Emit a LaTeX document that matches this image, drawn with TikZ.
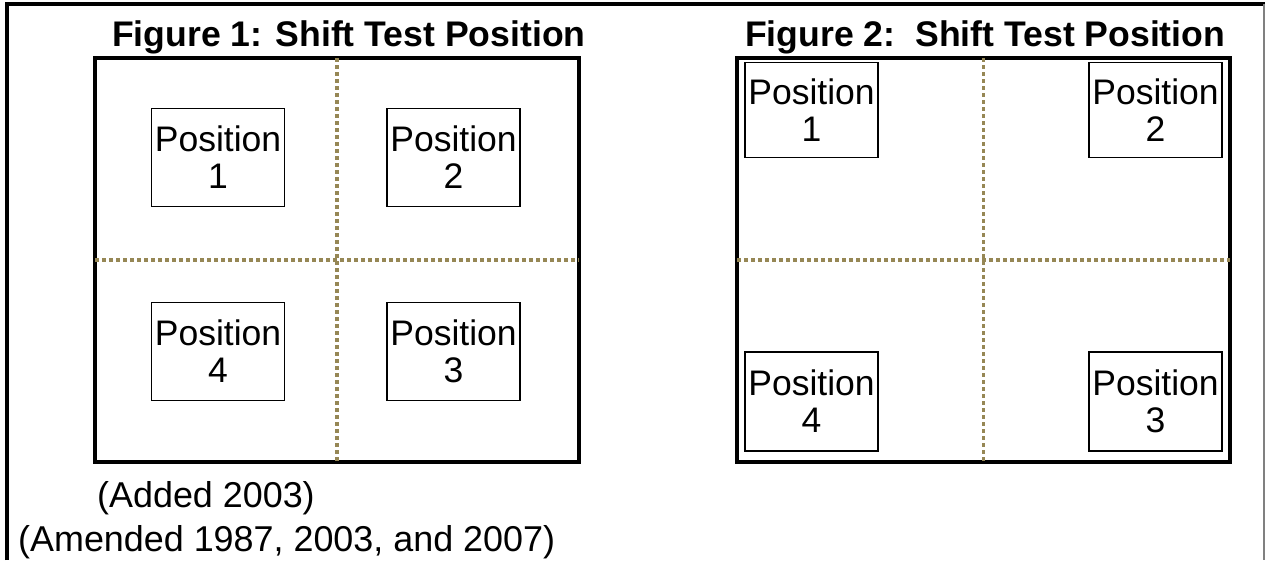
\documentclass[tikz,border=0pt]{standalone}
\usepackage{fontspec}
\setmainfont{Liberation Sans}
\definecolor{gridcol}{RGB}{150,135,85}
\begin{document}
\begin{tikzpicture}[x=1pt,y=-1pt,
  posbox/.style={draw, line width=1.5pt, minimum width=133pt, minimum height=98pt, inner sep=0pt, align=center, font=\fontsize{35.5}{37}\selectfont},
  figbox/.style={draw, line width=4pt, inner sep=0pt, outer sep=0pt},
  gridline/.style={draw=gridcol, line width=3.5pt, dash pattern=on 3.5pt off 3.5pt},
  title/.style={anchor=base west, inner sep=0pt, font=\fontsize{35.6}{40}\selectfont\bfseries},
  note/.style={anchor=base west, inner sep=0pt, font=\fontsize{35.9}{40}\selectfont}]
\useasboundingbox (0,0) rectangle (1265,560);
\fill[white] (0,0) rectangle (1265,560);
% outer frame
\draw[line width=4pt] (7,560) -- (7,4) -- (1265,4);
\draw[gray, line width=1.5pt] (1264,4) -- (1264,560);
% titles
\node[title] (t1) at (112,46) {Figure 1: Shift Test Position};
\node[title] (t2) at (745,46) {Figure 2:\ \ Shift Test Position};
% figure 1
\node[figbox, minimum width=484pt, minimum height=404pt] (f1) at (337,260) {};
\draw[gridline] (f1.north) -- (f1.south);
\draw[gridline] (f1.west) -- (f1.east);
\node[posbox] (a1) at (218,157.5) {Position\\1};
\node[posbox] (a2) at (453.5,157.5) {Position\\2};
\node[posbox] (a4) at (218,351.5) {Position\\4};
\node[posbox] (a3) at (453.5,351.5) {Position\\3};
% figure 2
\node[figbox, minimum width=493pt, minimum height=404pt] (f2) at (983.5,260) {};
\draw[gridline] (f2.north) -- (f2.south);
\draw[gridline] (f2.west) -- (f2.east);
\node[posbox, minimum height=95pt] (b1) at (811.5,110) {Position\\1};
\node[posbox, minimum height=95pt] (b2) at (1155.5,110) {Position\\2};
\node[posbox, minimum height=99pt] (b4) at (811.5,401.5) {Position\\4};
\node[posbox, minimum height=99pt] (b3) at (1155.5,401.5) {Position\\3};
% notes
\node[note] (n1) at (97,507) {(Added 2003)};
\node[note] (n2) at (18,551) {(Amended 1987, 2003, and 2007)};
\end{tikzpicture}
\end{document}
